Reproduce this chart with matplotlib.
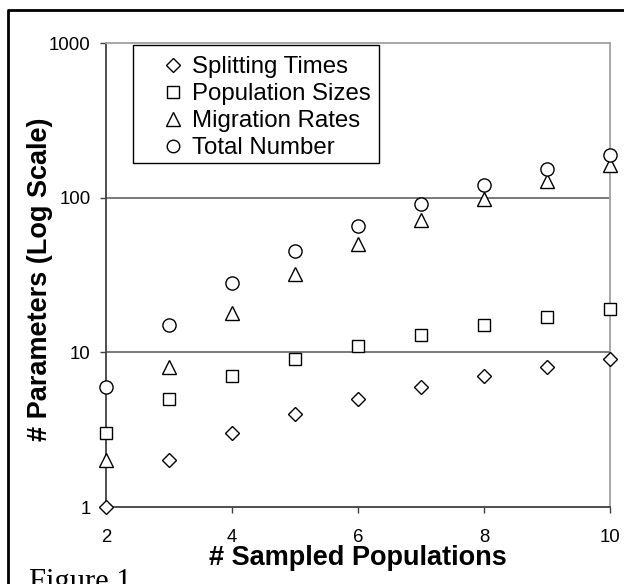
import matplotlib
matplotlib.use("Agg")
import matplotlib.pyplot as plt
from matplotlib.lines import Line2D
from matplotlib.patches import Rectangle
from matplotlib.ticker import FixedLocator, FixedFormatter, NullLocator

# values
n_pops = [2, 3, 4, 5, 6, 7, 8, 9, 10]
splitting_times = [1, 2, 3, 4, 5, 6, 7, 8, 9]
population_sizes = [3, 5, 7, 9, 11, 13, 15, 17, 19]
migration_rates = [2, 8, 18, 32, 50, 72, 98, 128, 162]
total_number = [6, 15, 28, 45, 66, 91, 120, 153, 190]

series_labels = ["Splitting Times", "Population Sizes", "Migration Rates", "Total Number"]
y_ticks = [1, 10, 100, 1000]
x_ticks = [2, 4, 6, 8, 10]

W, H = 624, 584
fig = plt.figure(figsize=(W / 100, H / 100), dpi=100)

# outer frame of the figure panel (top and left edges only visible)
fig.add_artist(Line2D([7.5 / W, 7.5 / W], [0, 1 - 9.5 / H], transform=fig.transFigure,
                      color="black", lw=2, solid_capstyle="butt"))
fig.add_artist(Line2D([6.5 / W, 1], [1 - 9.5 / H, 1 - 9.5 / H], transform=fig.transFigure,
                      color="black", lw=2, solid_capstyle="butt"))

left, right, top, bottom = 106, 610, 43, 507
ax = fig.add_axes([left / W, 1 - bottom / H, (right - left) / W, (bottom - top) / H])

ax.set_yscale("log")
ax.set_ylim(1, 1000)
ax.set_xlim(2, 10)

ax.yaxis.set_major_locator(FixedLocator(y_ticks))
ax.yaxis.set_major_formatter(FixedFormatter([str(v) for v in y_ticks]))
ax.yaxis.set_minor_locator(NullLocator())
ax.set_xticks(x_ticks)
ax.set_xticklabels([str(v) for v in x_ticks])

for yv in [10, 100]:
    ax.axhline(yv, color="#707070", lw=1.3, zorder=1)

for side in ["top", "right"]:
    ax.spines[side].set_color("#a0a0a0")
    ax.spines[side].set_linewidth(1.3)
for side in ["left", "bottom"]:
    ax.spines[side].set_color("#404040")
    ax.spines[side].set_linewidth(1.3)

ax.tick_params(axis="both", direction="out", length=4.5, width=1, color="#404040",
               labelsize=13.4)
ax.tick_params(axis="x", pad=11)
ax.tick_params(axis="y", pad=6.5)
for lab in ax.get_xticklabels() + ax.get_yticklabels():
    lab.set_family("Liberation Sans")

mk = dict(linestyle="none", markerfacecolor="white", markeredgecolor="black",
          markeredgewidth=1.0, clip_on=False, zorder=5)
ax.plot(n_pops, splitting_times, marker="D", markersize=7.5, label=series_labels[0], **mk)
ax.plot(n_pops, population_sizes, marker="s", markersize=9, label=series_labels[1], **mk)
ax.plot(n_pops, migration_rates, marker="^", markersize=10, label=series_labels[2], **mk)
ax.plot(n_pops, total_number, marker="o", markersize=9.5, label=series_labels[3], **mk)

# legend: entries without frame, frame drawn as a separate box
leg = ax.legend(loc="upper left", bbox_to_anchor=((161 - left) / (right - left), (bottom - 56) / (bottom - top)),
                borderaxespad=0, borderpad=0, frameon=False, handlelength=1.0,
                handletextpad=0.3, labelspacing=0.21,
                prop={"family": "Liberation Sans", "size": 17.3}, markerscale=0.95)
ax.add_patch(Rectangle(((133 - left) / (right - left), (bottom - 163) / (bottom - top)),
                       (379 - 133) / (right - left), (163 - 45) / (bottom - top),
                       transform=ax.transAxes, fill=False, edgecolor="black", lw=1.0,
                       zorder=6, clip_on=False))

ax.set_xlabel("# Sampled Populations", fontsize=19.5, fontweight="bold",
              family="Liberation Sans")
ax.xaxis.set_label_coords(0.5, (bottom - 545) / (bottom - top))
ax.set_ylabel("# Parameters (Log Scale)", fontsize=19.5, fontweight="bold",
              family="Liberation Sans")
ax.yaxis.set_label_coords((53 - left) / (right - left), 0.49)

fig.text(29 / W, -6 / H, "Figure 1", family="Liberation Serif", fontsize=22,
         ha="left", va="baseline")

fig.savefig("out.png", dpi=100)
